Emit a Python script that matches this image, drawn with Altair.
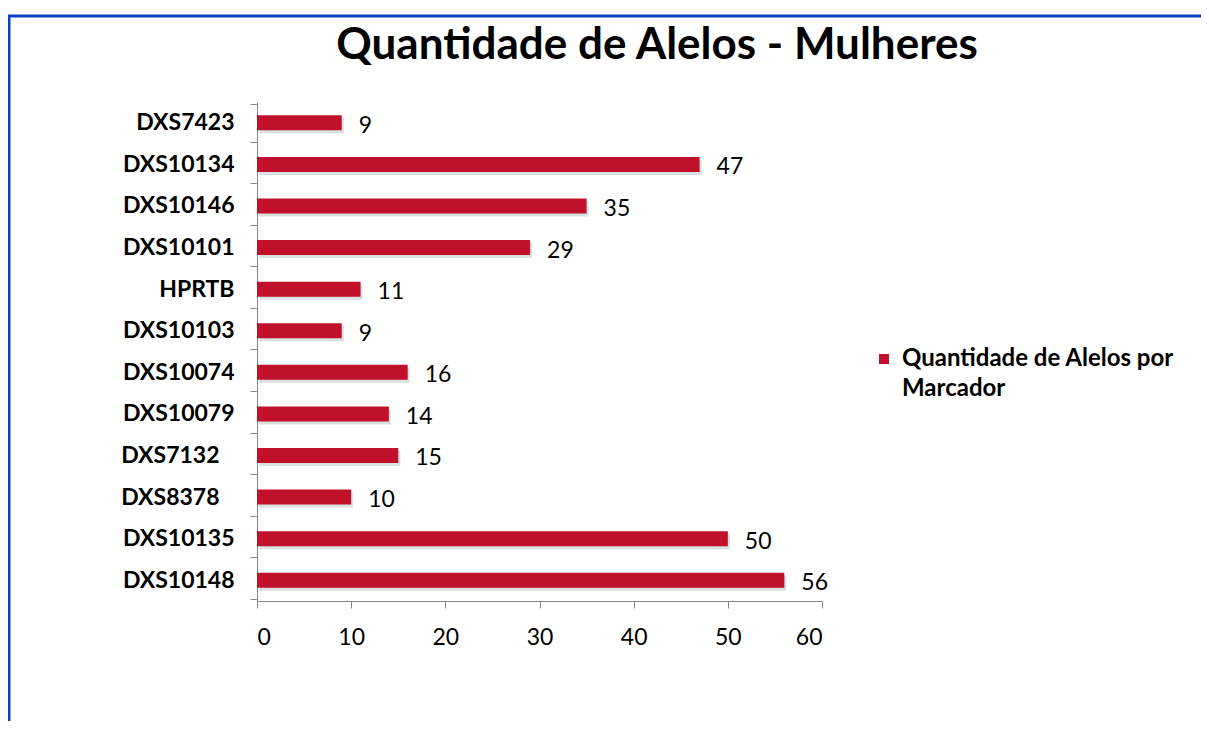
import altair as alt
import pandas as pd

markers = ["DXS7423", "DXS10134", "DXS10146", "DXS10101", "HPRTB", "DXS10103",
           "DXS10074", "DXS10079", "DXS7132", "DXS8378", "DXS10135", "DXS10148"]
alleles = [9, 47, 35, 29, 11, 9, 16, 14, 15, 10, 50, 56]
series_name = "Quantidade de Alelos por Marcador"
title_text = "Quantidade de Alelos - Mulheres"
x_ticks = [0, 10, 20, 30, 40, 50, 60]

df = pd.DataFrame({"marcador": markers, "alelos": alleles, "serie": series_name})

FONT = "Lato"
RED = "#C0102A"

y_enc = alt.Y("marcador:N", sort=markers, title=None,
              axis=alt.Axis(tickBand="extent", tickSize=7, labelFontSize=23, labelFontWeight="bold",
                            labelColor="#000000",
                            labelPadding={"condition": {"test": "datum.value == 'DXS7132' || datum.value == 'DXS8378'",
                                                        "value": 31}, "value": 16},
                            domainColor="#868686", tickColor="#868686", labelFont=FONT, labelLimit=300))
x_enc = alt.X("alelos:Q", title=None, scale=alt.Scale(domain=[0, 60], nice=False),
              axis=alt.Axis(values=x_ticks, tickSize=7, labelFontSize=23, labelColor="#000000",
                            labelPadding=18, domainColor="#868686", tickColor="#868686",
                            grid=False, labelFont=FONT))

base = alt.Chart(df)

shadow = base.mark_bar(size=15, color="#b9c6c6", opacity=0.55, xOffset=2, yOffset=3).encode(
    x=x_enc, y=y_enc)

bars = base.mark_bar(size=15).encode(
    x=x_enc, y=y_enc,
    color=alt.Color("serie:N", scale=alt.Scale(range=[RED]),
                    legend=alt.Legend(title=None, orient="none", legendX=615, legendY=245,
                                      symbolType="square", symbolSize=100, labelFontSize=24,
                                      labelFontWeight="bold", labelFont=FONT, labelColor="#000000",
                                      labelLimit=400, labelOffset=6,
                                      labelExpr="['Quantidade de Alelos por', 'Marcador']")))

labels = base.mark_text(align="left", baseline="middle", dx=17, dy=3, fontSize=23,
                        font=FONT, color="#000000").encode(
    x="alelos:Q", y=alt.Y("marcador:N", sort=markers), text="alelos:Q")

one = alt.Data(values=[{"t": title_text}])
title = alt.Chart(one).mark_text(fontSize=44, fontWeight="bold", font=FONT, color="#000000",
                                 align="center", baseline="alphabetic").encode(
    x=alt.value(400), y=alt.value(-43), text="t:N")

top_border = alt.Chart(one).mark_rule(color="#0a3fc0", strokeWidth=3).encode(
    x=alt.value(-250), x2=alt.value(1000), y=alt.value(-86))
left_border = alt.Chart(one).mark_rule(color="#0a3fc0", strokeWidth=3).encode(
    x=alt.value(-248), y=alt.value(-86), y2=alt.value(800))

chart = alt.layer(shadow, bars, labels, title, top_border, left_border).properties(
    width=565, height=499,
    padding={"left": 249, "top": 94, "right": 379, "bottom": 120},
    autosize=alt.AutoSizeParams(type="none"),
).configure(style={"guide-label": {"lineHeight": 30}}).configure_view(stroke=None)

chart.save("out.html", embed_options={"renderer": "svg", "actions": False})
